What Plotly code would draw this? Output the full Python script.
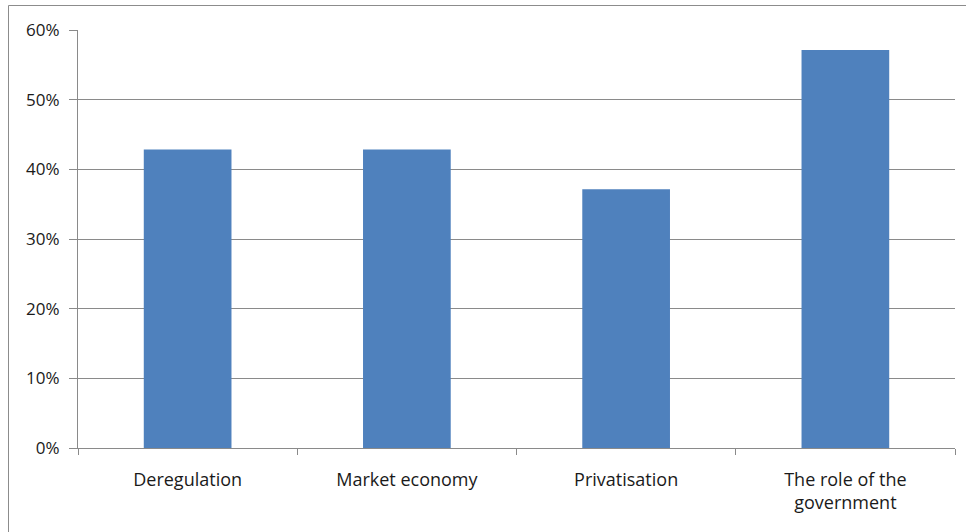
import plotly.graph_objects as go

categories = ["Deregulation", "Market economy", "Privatisation", "The role of the<br>government"]
shares = [0.4286, 0.4286, 0.3714, 0.5714]
y_ticks = [0, 0.1, 0.2, 0.3, 0.4, 0.5, 0.6]

W, H = 966, 532
L, R, T, B = 78, 11, 30, 84
pw, ph = W - L - R, H - T - B

def px_x(x):
    return (x - L) / pw

def px_y(y):
    return (H - B - y) / ph

fig = go.Figure(
    go.Bar(
        x=categories,
        y=shares,
        marker=dict(color="#4F81BD", line=dict(width=0)),
        hoverinfo="skip",
    )
)

grid = "#8a8a8a"
fig.update_layout(
    width=W,
    height=H,
    margin=dict(l=L, r=R, t=T, b=B),
    paper_bgcolor="white",
    plot_bgcolor="white",
    bargap=0.6,
    showlegend=False,
    font=dict(family="Open Sans", size=17, color="#1a1a1a"),
    xaxis=dict(
        showline=True,
        linecolor=grid,
        linewidth=1,
        ticks="outside",
        tickson="boundaries",
        ticklen=6,
        tickcolor=grid,
        showgrid=False,
        ticklabelstandoff=15,
        tickfont=dict(size=18),
    ),
    yaxis=dict(
        range=[0, 0.6],
        tickvals=y_ticks,
        tickformat=".0%",
        showline=True,
        linecolor=grid,
        linewidth=1,
        ticks="outside",
        ticklen=8,
        tickcolor=grid,
        showgrid=True,
        gridcolor=grid,
        gridwidth=1,
        zeroline=False,
        ticklabelstandoff=6,
        tickfont=dict(size=17),
    ),
    shapes=[
        dict(
            type="rect",
            xref="paper",
            yref="paper",
            x0=px_x(8.5),
            x1=px_x(1000),
            y0=px_y(560),
            y1=px_y(5.5),
            line=dict(color="#8c8c8c", width=1),
            fillcolor="rgba(0,0,0,0)",
            layer="below",
        )
    ],
)

fig.write_html("out.html")
